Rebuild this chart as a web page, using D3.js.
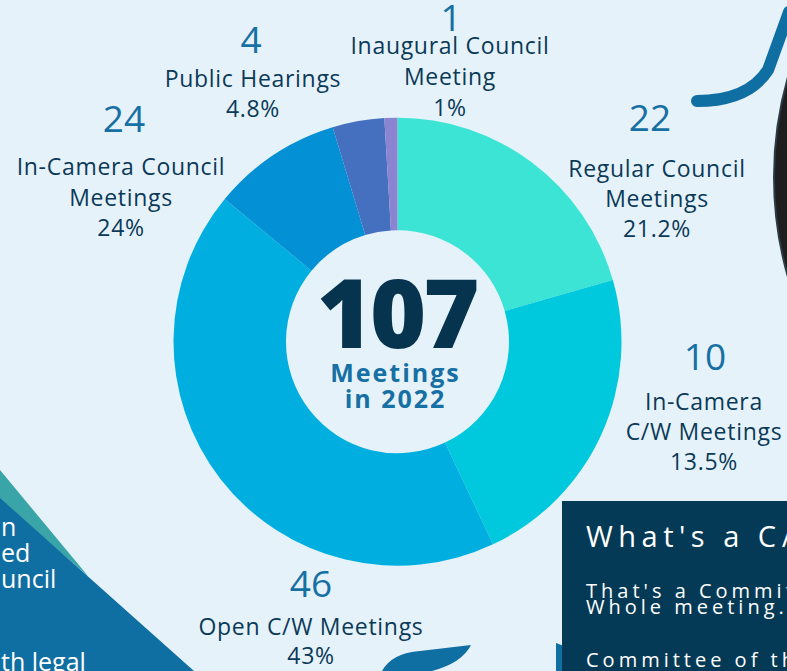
<!DOCTYPE html>
<html>
<head>
<meta charset="utf-8">
<script src="https://d3js.org/d3.v7.min.js"></script>
<style>
  html, body { margin: 0; padding: 0; background: #e6f2fa; overflow: hidden; }
  svg { display: block; }
</style>
</head>
<body>
<div id="chart"></div>
<script>
// Meetings in 2022, clockwise from 12 o'clock
const categories = ["Regular Council Meetings", "In-Camera C/W Meetings", "Open C/W Meetings",
  "In-Camera Council Meetings", "Public Hearings", "Inaugural Council Meeting"]
// wedge sizes as drawn in the donut
const sliceValues = [22, 24, 46, 10, 4, 1]
// figures printed next to each wedge
const countLabels = ["22", "10", "46", "24", "4", "1"]
const percentLabels = ["21.2%", "13.5%", "43%", "24%", "4.8%", "1%"]
const nameLines = [
  ["Regular Council", "Meetings"],
  ["In-Camera", "C/W Meetings"],
  ["Open C/W Meetings"],
  ["In-Camera Council", "Meetings"],
  ["Public Hearings"],
  ["Inaugural Council", "Meeting"]
]
const total = 107
const yearLabel = "in 2022"

const width = 787
const height = 671
const cx = 397.5
const cy = 341.7
const outerR = 224
const innerR = 111.5

const color = d3.scaleOrdinal()
  .domain(categories)
  .range(["#3ce4d5", "#00c8dd", "#00afdf", "#0390d5", "#4570c0", "#8b85d1"])

// hand placed label blocks: text centre, number centre, number baseline, first line baseline
const labelLayout = [
  { x: 657, nx: 650, ny: 131, ty: 177, gap: 30 },
  { x: 704, nx: 705, ny: 370, ty: 410, gap: 30 },
  { x: 311, nx: 311, ny: 597, ty: 635, gap: 28.5 },
  { x: 121, nx: 124, ny: 132, ty: 175, gap: 30.5 },
  { x: 253, nx: 251, ny: 53, ty: 87, gap: 30 },
  { x: 450, nx: 451, ny: 31, ty: 54, gap: 31 }
]

const labelFont = "'Open Sans', 'Noto Sans', sans-serif"

const svg = d3.select("#chart")
  .append("svg")
  .attr("width", width)
  .attr("height", height)
  .attr("viewBox", `0 0 ${width} ${height}`)

svg.append("rect")
  .attr("width", width)
  .attr("height", height)
  .attr("fill", "#e6f2fa")

// decorations around the page edges
svg.append("circle")
  .attr("cx", 1138).attr("cy", 177)
  .attr("r", 364)
  .attr("fill", "#1e1e1e")
  .attr("stroke", "#2b3a44")
  .attr("stroke-width", 2)

svg.append("path")
  .attr("d", "M697,101 Q748,101 768,70 L789,12")
  .attr("fill", "none")
  .attr("stroke", "#0f6ea2")
  .attr("stroke-width", 12)
  .attr("stroke-linecap", "round")

svg.append("path")
  .attr("d", "M0,470 L88,576 L0,500 Z")
  .attr("fill", "#3aa5a8")
svg.append("path")
  .attr("d", "M0,498 L194,671 L0,671 Z")
  .attr("fill", "#0f6ea2")

const triLines = [["n", 536], ["ed", 562], ["uncil", 588], ["th legal", 671]]
triLines.forEach(([t, y]) => {
  svg.append("text")
    .attr("x", 1).attr("y", y)
    .attr("fill", "#ffffff")
    .attr("font-family", labelFont)
    .attr("font-weight", 500)
    .attr("font-size", "25px")
    .text(t)
})

svg.append("path")
  .attr("d", "M382,671 Q392,653 420,651 L471,645 Q462,663 432,671 Z")
  .attr("fill", "#0f6ea2")

// donut
const pie = d3.pie().sort(null).value(d => d.value)
const arc = d3.arc().innerRadius(innerR).outerRadius(outerR)
const slices = pie(categories.map((c, i) => ({ name: c, value: sliceValues[i] })))

const g = svg.append("g").attr("transform", `translate(${cx},${cy})`)
g.selectAll("path.slice")
  .data(slices)
  .join("path")
  .attr("class", "slice")
  .attr("d", arc)
  .attr("fill", d => color(d.data.name))

// centre text
g.append("text")
  .attr("x", -1).attr("y", 6)
  .attr("text-anchor", "middle")
  .attr("fill", "#06344f")
  .attr("font-family", labelFont)
  .attr("font-weight", 800)
  .attr("font-size", "96px")
  .attr("letter-spacing", "-3px")
  .text(total)

g.append("text")
  .attr("x", -2).attr("y", 40)
  .attr("text-anchor", "middle")
  .attr("fill", "#1670a3")
  .attr("font-family", labelFont)
  .attr("font-weight", 700)
  .attr("font-size", "25px")
  .attr("letter-spacing", "2px")
  .text("Meetings")

g.append("text")
  .attr("x", -2).attr("y", 66)
  .attr("text-anchor", "middle")
  .attr("fill", "#1670a3")
  .attr("font-family", labelFont)
  .attr("font-weight", 700)
  .attr("font-size", "25px")
  .attr("letter-spacing", "2px")
  .text(yearLabel)

// outside labels
categories.forEach((c, i) => {
  const L = labelLayout[i]
  svg.append("text")
    .attr("x", L.nx).attr("y", L.ny)
    .attr("text-anchor", "middle")
    .attr("fill", "#1670a3")
    .attr("font-family", labelFont)
    .attr("font-weight", 500)
    .attr("font-size", "37px")
    .text(countLabels[i])

  const lines = nameLines[i].concat([percentLabels[i]])
  lines.forEach((t, j) => {
    svg.append("text")
      .attr("x", L.x).attr("y", L.ty + j * L.gap)
      .attr("text-anchor", "middle")
      .attr("fill", "#0b3a58")
      .attr("font-family", labelFont)
      .attr("font-weight", 500)
      .attr("font-size", "23px")
      .attr("letter-spacing", "0.7px")
      .text(t)
  })
})

// info box, bottom right
svg.append("path")
  .attr("d", "M556,643 Q566,646 572,652 L566,671 L556,671 Z")
  .attr("fill", "#0f6ea2")

svg.append("rect")
  .attr("x", 562).attr("y", 501)
  .attr("width", width - 562).attr("height", height - 501)
  .attr("fill", "#053a56")

const boxText = [
  ["What's a C/W?", 547, "29px", "5.5px"],
  ["That's a Committee of the", 598, "20px", "4px"],
  ["Whole meeting.", 614, "20px", "4px"],
  ["Committee of the Whole", 667, "20px", "4px"]
]
boxText.forEach(([t, y, fs, ls]) => {
  svg.append("text")
    .attr("x", 586).attr("y", y)
    .attr("fill", "#ffffff")
    .attr("font-family", labelFont)
    .attr("font-size", fs)
    .attr("letter-spacing", ls)
    .text(t)
})
</script>
</body>
</html>
